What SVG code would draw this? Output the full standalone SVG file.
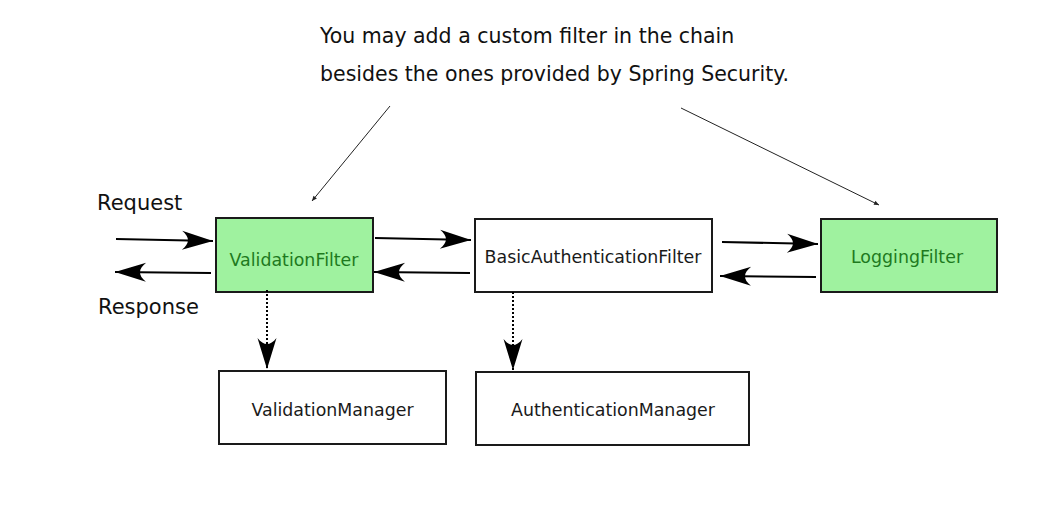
<svg xmlns="http://www.w3.org/2000/svg" width="1040" height="511" viewBox="0 0 1040 511">
<style>
.box{stroke:#1a1a1a;stroke-width:2}
.plain{fill:#ffffff}
.green{fill:#9ff29f}
.lbl{font-family:"DejaVu Sans",Verdana,sans-serif;font-size:17.4px;text-anchor:middle;fill:#1a1a1a}
.glbl{fill:#1e7a1e}
.note{font-family:"DejaVu Sans",Verdana,sans-serif;font-size:20.5px;fill:#111}
.side{font-family:"DejaVu Sans",Verdana,sans-serif;font-size:21px;fill:#111}
.flow{stroke:#000;stroke-width:2;fill:none;marker-end:url(#big)}
.dot{stroke:#000;stroke-width:2;fill:none;stroke-dasharray:2 2;marker-end:url(#big)}
.thin{stroke:#222;stroke-width:1;fill:none;marker-end:url(#small)}
</style>
<defs>
<marker id="big" markerUnits="userSpaceOnUse" viewBox="-32 -11 33 22" refX="0" refY="0" markerWidth="33" markerHeight="22" orient="auto">
<path d="M0,0 L-31,-9.5 C-23,-3 -23,3 -31,9.5 Z" fill="#000"/>
</marker>
<marker id="small" markerUnits="userSpaceOnUse" viewBox="-6 -3 7 6" refX="0" refY="0" markerWidth="7" markerHeight="6" orient="auto">
<path d="M0,0 L-5,-2.2 L-5,2.2 Z" fill="#222"/>
</marker>
</defs>

<g id="annotation">
<text class="note" x="320" y="43">You may add a custom filter in the chain</text>
<text class="note" x="320" y="81">besides the ones provided by Spring Security.</text>
</g>
<g id="request-label"><text class="side" x="97" y="210">Request</text></g>
<g id="response-label"><text class="side" x="98" y="314">Response</text></g>

<g id="validation-filter">
<rect class="box green" x="216" y="218" width="157" height="74"/>
<text class="lbl glbl" x="294" y="266">ValidationFilter</text>
</g>
<g id="basic-auth-filter">
<rect class="box plain" x="475" y="219" width="237" height="73"/>
<text class="lbl" x="593" y="263">BasicAuthenticationFilter</text>
</g>
<g id="logging-filter">
<rect class="box green" x="821" y="219" width="176" height="73"/>
<text class="lbl glbl" x="907" y="263">LoggingFilter</text>
</g>
<g id="validation-manager">
<rect class="box plain" x="219" y="371" width="227" height="73"/>
<text class="lbl" x="332.5" y="416">ValidationManager</text>
</g>
<g id="authentication-manager">
<rect class="box plain" x="476" y="372" width="273" height="73"/>
<text class="lbl" x="613" y="416">AuthenticationManager</text>
</g>

<g id="connectors">
<line class="flow" x1="116" y1="239" x2="213" y2="241"/>
<line class="flow" x1="211" y1="273" x2="115" y2="272"/>
<line class="flow" x1="375" y1="238" x2="471" y2="240"/>
<line class="flow" x1="470" y1="273" x2="374" y2="272"/>
<line class="flow" x1="722" y1="242" x2="818" y2="244"/>
<line class="flow" x1="816" y1="277" x2="720" y2="276"/>
<line class="dot" x1="267" y1="290" x2="267" y2="369"/>
<line class="dot" x1="513" y1="292" x2="513" y2="370"/>
<line class="thin" x1="390" y1="106" x2="312" y2="201"/>
<line class="thin" x1="681" y1="108" x2="879" y2="205"/>
</g>
</svg>
